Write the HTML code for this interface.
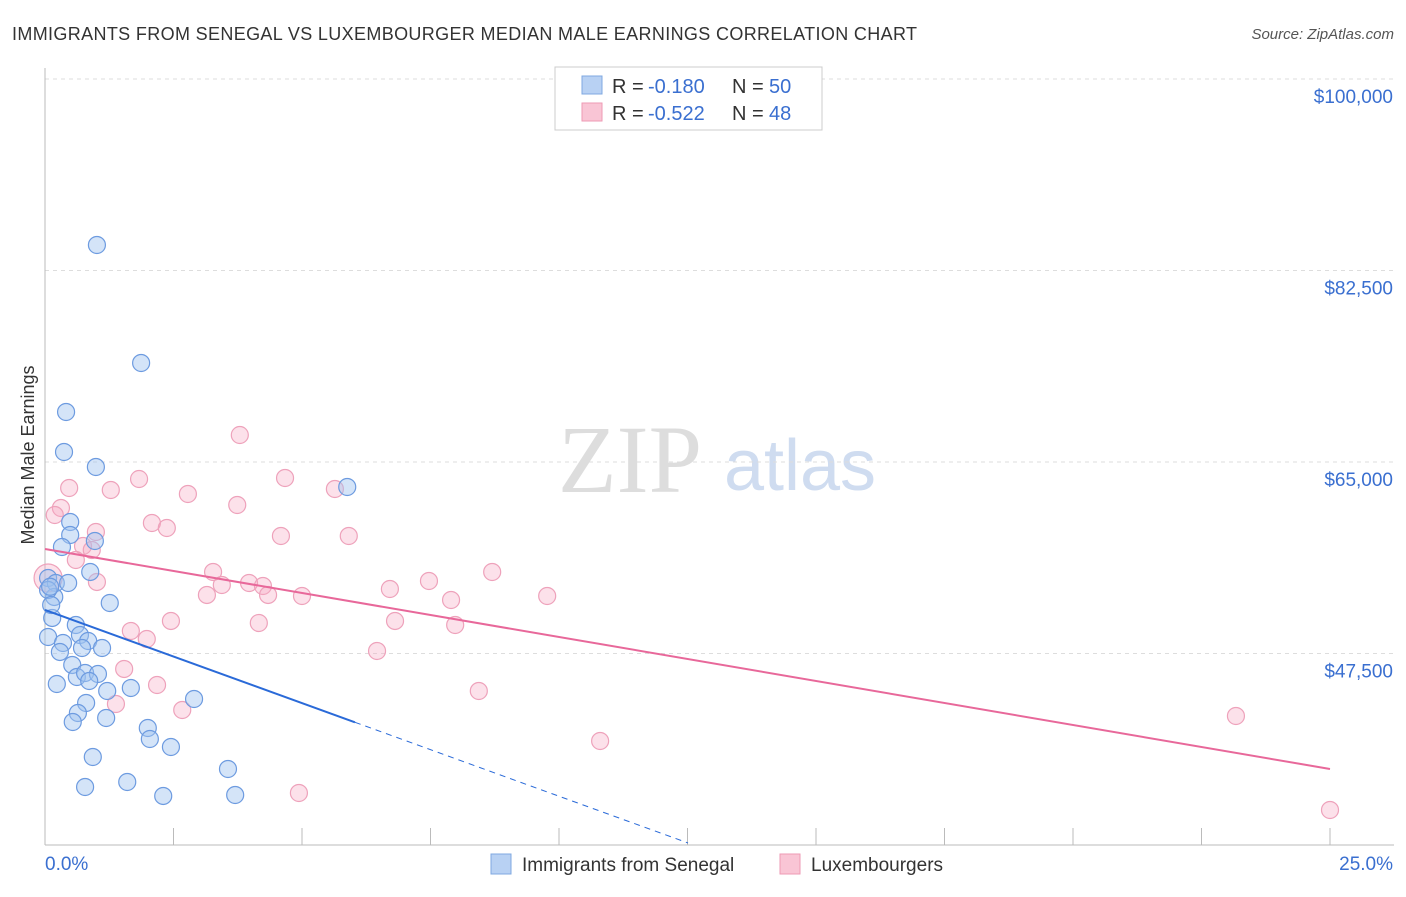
<!DOCTYPE html>
<html><head><meta charset="utf-8"><style>
body{margin:0;background:#fff;font-family:"Liberation Sans",sans-serif;}
</style></head><body>
<svg width="1406" height="892" xmlns="http://www.w3.org/2000/svg" style="font-family:'Liberation Sans',sans-serif">
<text x="12" y="40" font-size="18" fill="#333" textLength="905" lengthAdjust="spacing">IMMIGRANTS FROM SENEGAL VS LUXEMBOURGER MEDIAN MALE EARNINGS CORRELATION CHART</text>
<text x="1394" y="39" font-size="15" fill="#555" font-style="italic" text-anchor="end">Source: ZipAtlas.com</text>
<text x="630" y="492" font-size="96" fill="#ddd" font-family="Liberation Serif" text-anchor="middle">ZIP</text>
<text x="800" y="490" font-size="72" fill="#cfdcf0" text-anchor="middle">atlas</text>
<g id="grid"></g>
<g id="axes"></g>
<g id="marks"></g>
<text transform="translate(34,455) rotate(-90)" font-size="18" fill="#333" text-anchor="middle">Median Male Earnings</text>
<g font-size="20">
<rect x="555" y="67" width="267" height="63" fill="#fff" stroke="#ccc"/>
<rect x="582" y="76" width="20" height="18" fill="#b8d1f3" stroke="#7fa8e0"/>
<rect x="582" y="103" width="20" height="18" fill="#f9c5d5" stroke="#ee9ab4"/>
<text x="612" y="93" fill="#333">R =</text>
<text x="648" y="93" fill="#3a6fd0">-0.180</text>
<text x="732" y="93" fill="#333">N =</text>
<text x="769" y="93" fill="#3a6fd0">50</text>
<text x="612" y="120" fill="#333">R =</text>
<text x="648" y="120" fill="#3a6fd0">-0.522</text>
<text x="732" y="120" fill="#333">N =</text>
<text x="769" y="120" fill="#3a6fd0">48</text>
</g>
<g>
<rect x="491" y="854" width="20" height="20" fill="#b8d1f3" stroke="#7fa8e0"/>
<text x="522" y="871" font-size="19" fill="#333">Immigrants from Senegal</text>
<rect x="780" y="854" width="20" height="20" fill="#f9c5d5" stroke="#ee9ab4"/>
<text x="811" y="871" font-size="19" fill="#333">Luxembourgers</text>
</g>
</svg>
<script>
const yTicks=[100000,82500,65000,47500];
const yTickLabels=["$100,000","$82,500","$65,000","$47,500"];
const xTickLabels=["0.0%","25.0%"];
const blueX=[1.01,1.87,0.41,0.37,0.99,5.88,0.49,0.49,0.33,0.97,0.88,0.06,0.21,0.45,0.18,1.26,0.14,0.60,0.06,0.68,0.35,0.84,0.29,0.72,1.11,0.53,0.62,0.78,1.03,0.86,0.23,1.21,1.67,2.90,0.80,0.64,1.19,0.54,2.00,2.04,2.45,0.93,3.56,1.60,0.78,2.30,3.70,0.06,0.12,0.1];
const blueY=[84831,74048,69571,65915,64545,62717,59519,58331,57234,57783,54951,54402,53945,53945,52666,52117,50747,50107,49010,49193,48462,48645,47640,48005,48005,46452,45355,45720,45629,44989,44715,44075,44349,43344,42978,42064,41607,41242,40694,39689,38958,38044,36948,35760,35303,34481,34572,53305,51934,53600];
const pinkX=[3.79,4.67,1.83,0.47,1.28,2.78,5.64,3.74,0.31,0.19,2.08,2.37,0.99,4.59,5.91,0.74,0.91,0.60,3.27,8.70,7.47,1.01,3.97,4.24,3.44,6.71,3.15,4.34,5.00,9.77,7.90,2.45,6.81,4.16,7.98,1.67,1.98,6.46,1.54,2.18,8.44,1.38,2.67,23.17,10.80,4.94,25.0,0.06];
const pinkY=[67468,63539,63447,62625,62443,62077,62534,61072,60798,60158,59427,58970,58605,58239,58239,57325,56960,56046,54950,54950,54128,54037,53945,53671,53762,53397,52849,52849,52757,52757,52391,50473,50473,50290,50107,49558,48827,47731,46087,44624,44075,42887,42339,41790,39506,34754,33201,54402];
const blueLine=[51478,-1702,6.03,12.51];
const pinkLine=[57051,36948];
const NS="http://www.w3.org/2000/svg";
const X=p=>45+p*51.4;
const Y=v=>79+(100000-v)*0.010943;
function mk(t,a,parent){const e=document.createElementNS(NS,t);for(const k in a)e.setAttribute(k,a[k]);document.getElementById(parent).appendChild(e);return e;}
yTicks.forEach((v,i)=>{
 const l=mk('line',{x1:45,x2:1394,y1:Y(v),y2:Y(v),stroke:'#ddd','stroke-dasharray':'4,4'},'grid');
 
 
 const t=mk('text',{x:1393,y:Y(v)+24,'font-size':19,fill:'#3a6fd0','text-anchor':'end'},'axes');
 t.textContent=yTickLabels[i];
 
 
});
const ax=mk('line',{x1:45,x2:1394,y1:845,y2:845,stroke:'#bbb'},'axes');


const ay=mk('line',{x1:45,x2:45,y1:68,y2:845,stroke:'#bbb'},'axes');


for(let i=0;i<=10;i++){const tk=mk('line',{x1:X(i*2.5),x2:X(i*2.5),y1:828,y2:845,stroke:'#bbb'},'axes');
 
 }
[[0,45,'start'],[25,1393,'end']].forEach((d,i)=>{const t=mk('text',{x:d[1],y:870,'font-size':19,fill:'#3a6fd0','text-anchor':d[2]},'axes');t.textContent=xTickLabels[i];
 
 });
pinkX.forEach((x,i)=>{const c=mk('circle',{cx:X(x),cy:Y(pinkY[i]),r:i==pinkX.length-1?14:8.5,fill:'rgba(246,170,195,0.35)',stroke:'#eea2bb','stroke-width':1.2},'marks');
 
 });
blueX.forEach((x,i)=>{const c=mk('circle',{cx:X(x),cy:Y(blueY[i]),r:8.5,fill:'rgba(160,195,240,0.45)',stroke:'#6d9be0','stroke-width':1.2},'marks');
 
 });
const bl=mk('line',{x1:X(0),y1:Y(blueLine[0]),x2:X(blueLine[2]),y2:Y(blueLine[0]+blueLine[1]*blueLine[2]),stroke:'#2a6ad8','stroke-width':2},'marks');


const bd=mk('line',{x1:X(blueLine[2]),y1:Y(blueLine[0]+blueLine[1]*blueLine[2]),x2:X(blueLine[3]),y2:Y(blueLine[0]+blueLine[1]*blueLine[3]),stroke:'#2a6ad8','stroke-width':1,'stroke-dasharray':'6,5'},'marks');


const pl=mk('line',{x1:X(0),y1:Y(pinkLine[0]),x2:X(25),y2:Y(pinkLine[1]),stroke:'#e8689a','stroke-width':2},'marks');


</script>
</body></html>
